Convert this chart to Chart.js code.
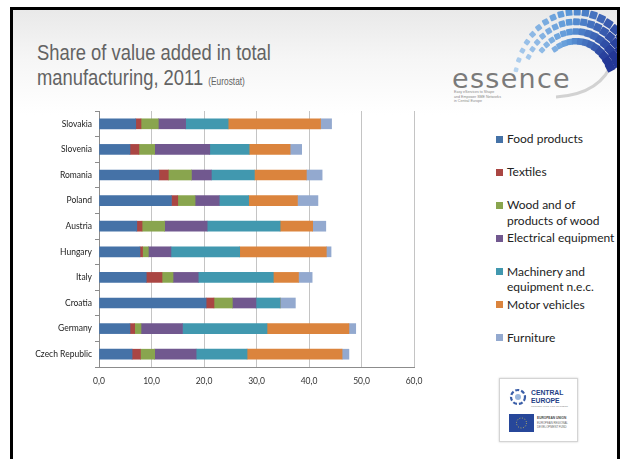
<!DOCTYPE html>
<html>
<head>
<meta charset="utf-8">
<script src="https://cdn.jsdelivr.net/npm/chart.js@4.4.0/dist/chart.umd.min.js"></script>
<style>
  html, body { margin:0; padding:0; background:#fff; }
  body { width:621px; height:459px; position:relative; overflow:hidden; }
  #frame { position:absolute; left:10px; top:7px; width:610px; height:460px; box-sizing:border-box;
           border:3px solid #000; border-bottom:none;
           background:linear-gradient(to bottom, #e9e9e9 0px, #f6f6f6 50px, #ffffff 105px, #ffffff 100%); }
  #title { position:absolute; left:37px; top:40px; font-family:"Liberation Sans",Arial,sans-serif;
           font-size:22px; line-height:25px; color:#636363; white-space:nowrap;
           transform:scaleX(0.835); transform-origin:0 0; }
  #title small { font-size:10px; }
  #chartBox { position:absolute; left:0; top:100px; width:440px; height:300px; }
  .leg { position:absolute; left:496px; font-family:Lato,"Open Sans",sans-serif; font-size:12px; color:#222; }
  .leg .sw { position:absolute; left:0; width:7px; height:7px; }
  .leg .tx { position:absolute; left:11px; white-space:pre; line-height:15.7px; }
  #essence { position:absolute; left:452px; top:63px; font-family:"DejaVu Sans",sans-serif; font-size:27px;
             color:#7a7a7a; letter-spacing:1.3px; }
  #tag { position:absolute; left:454px; top:90px; font-family:"Liberation Sans",sans-serif; font-size:3.6px;
         line-height:4.6px; color:#888; }
  #ce { position:absolute; left:499px; top:378px; width:79px; height:64px; box-sizing:border-box;
        border:1px solid #d4d4d4; background:#fff; box-shadow:0 0 2px #ccc; }
</style>
</head>
<body>
<div id="frame"></div>
<div id="title">Share of value added in total<br>manufacturing, 2011 <small>(Eurostat)</small></div>
<svg id="logo" width="621" height="120" style="position:absolute;left:0;top:0"></svg>
<div id="essence">essence</div>
<div id="tag">Easy eServices to Shape<br>and Empower SME Networks<br>in Central Europe</div>
<div id="chartBox"><canvas id="c"></canvas></div>
<div id="legend"></div>
<div id="ce">
  <svg width="77" height="62">
    <circle cx="18" cy="18" r="7" fill="none" stroke="#3a5ea8" stroke-width="2.2" stroke-dasharray="4 2"/>
    <circle cx="18" cy="18" r="3" fill="#9ab6dc"/>
    <text x="31" y="16" font-family="Liberation Sans" font-weight="bold" font-size="8" fill="#243f86" transform="translate(31,0) scale(0.85,1) translate(-31,0)">CENTRAL</text>
    <text x="31" y="24" font-family="Liberation Sans" font-weight="bold" font-size="8" fill="#243f86" transform="translate(31,0) scale(0.85,1) translate(-31,0)">EUROPE</text>
    <text x="31" y="28" font-family="Liberation Sans" font-size="2.5" fill="#888">COOPERATING FOR SUCCESS</text>
    <rect x="9" y="35" width="25" height="18" fill="#27479a"/>
    <circle cx="21.5" cy="44" r="5" fill="none" stroke="#e8d24a" stroke-width="0.8" stroke-dasharray="0.9 1.7"/>
    <text x="37" y="40" font-family="Liberation Sans" font-weight="bold" font-size="3.2" fill="#444">EUROPEAN UNION</text>
    <text x="37" y="45" font-family="Liberation Sans" font-size="2.8" fill="#666">EUROPEAN REGIONAL</text>
    <text x="37" y="49" font-family="Liberation Sans" font-size="2.8" fill="#666">DEVELOPMENT FUND</text>
  </svg>
</div>
<script>
// ---- data ----
const categories = ['Slovakia','Slovenia','Romania','Poland','Austria','Hungary','Italy','Croatia','Germany','Czech Republic'];
const seriesNames = ['Food products','Textiles','Wood and of\nproducts of wood','Electrical equipment','Machinery and\nequipment n.e.c.','Motor vehicles','Furniture'];
const foodProducts        = [7.0, 5.9, 11.4, 13.8, 7.2, 7.8, 9.0, 20.4, 5.9, 6.3];
const textiles            = [1.0, 1.7, 1.8, 1.2, 1.0, 0.5, 3.0, 1.5, 0.9, 1.6];
const woodProducts        = [3.3, 3.0, 4.4, 3.3, 4.3, 1.1, 2.1, 3.5, 1.2, 2.7];
const electricalEquipment = [5.2, 10.5, 3.8, 4.6, 8.1, 4.3, 4.8, 4.5, 7.9, 7.9];
const machinery           = [8.1, 7.5, 8.2, 5.6, 13.9, 13.1, 14.3, 4.6, 16.1, 9.7];
const motorVehicles       = [17.6, 7.8, 9.9, 9.3, 6.2, 16.5, 4.8, 0.0, 15.6, 18.1];
const furniture           = [2.1, 2.2, 3.0, 3.9, 2.5, 0.9, 2.6, 2.9, 1.3, 1.3];
const xTickLabels = ['0,0','10,0','20,0','30,0','40,0','50,0','60,0'];

const seriesValues = [foodProducts, textiles, woodProducts, electricalEquipment, machinery, motorVehicles, furniture];
const colors = ['#4572a7','#aa4643','#89a54e','#71588f','#4198af','#db843d','#93a9cf'];

const datasets = seriesValues.map((vals, i) => ({
  label: seriesNames[i].replace('\n',' '),
  data: vals,
  backgroundColor: colors[i],
  borderWidth: 0,
  barThickness: 10
}));

new Chart(document.getElementById('c'), {
  type: 'bar',
  data: { labels: categories, datasets },
  options: {
    indexAxis: 'y',
    responsive: true,
    maintainAspectRatio: false,
    animation: false,
    layout: { padding: { top: 11, right: 26, left: 0, bottom: 0 } },
    plugins: { legend: { display: false }, tooltip: { enabled: false }, title: { display: false } },
    scales: {
      x: {
        stacked: true, min: 0, max: 60,
        ticks: { stepSize: 10, color: '#333', padding: 9,
                 font: { family: 'Lato, "Open Sans", sans-serif', size: 8.5 },
                 callback: (v, i) => xTickLabels[i] },
        grid: { color: '#c4c4c4', lineWidth: 1, drawTicks: false },
        border: { display: true, color: '#8c8c8c', width: 1 },
        afterFit: s => { s.height = 33; }
      },
      y: {
        stacked: true,
        ticks: { color: '#222', padding: 3,
                 font: { family: 'Lato, "Open Sans", sans-serif', size: 8.5 } },
        grid: { offset: true, drawOnChartArea: false, drawTicks: true, tickLength: 4, color: '#8c8c8c' },
        border: { display: true, color: '#8c8c8c', width: 1 },
        afterFit: s => { s.width = 99; }
      }
    }
  }
});

// ---- legend (HTML, built from series arrays) ----
const leg = document.getElementById('legend');
seriesNames.forEach((name, i) => {
  const cy = 139 + 33.1 * i;
  const d = document.createElement('div');
  d.className = 'leg';
  d.style.top = (cy - 7.85) + 'px';
  d.innerHTML = '<div class="sw" style="top:4.4px;background:' + colors[i] + '"></div><div class="tx"></div>';
  d.querySelector('.tx').textContent = name;
  leg.appendChild(d);
});

// ---- decorative logo squares ----
const svg = document.getElementById('logo');
const cx = 576, cy0 = 90, rx = 62, ry = 78;
const rows = [1.0, 0.875, 0.75, 0.625];
let out = '';
out += '<defs><clipPath id="cl"><rect x="13" y="10" width="604" height="110"/></clipPath></defs><g clip-path="url(#cl)">';
out += '<path d="M 556 97 Q 602 94 613 60" fill="none" stroke="#d2d2d2" stroke-width="3"/>';
const light = [182, 212, 240], mid = [90, 150, 215], dark = [35, 55, 150];
rows.forEach((s, r) => {
  const a0 = 195 + r * 14, a1 = 332;
  const n = 19 - r * 2;
  for (let k = 0; k < n; k++) {
    const t = k / (n - 1);
    const deg = a0 + t * (a1 - a0);
    const th = deg * Math.PI / 180;
    const x = cx + rx * s * Math.cos(th);
    const y = cy0 + ry * s * Math.sin(th);
    const g = (deg - 195) / 137;
    const size = (4.5 + 4.5 * g) * (0.85 + 0.15 * s);
    const ang = deg + 90;
    let col;
    if (g < 0.5) { const m = g / 0.5; col = light.map((v, j) => Math.round(v + (mid[j] - v) * m)); }
    else { const m = Math.min(1, (g - 0.5) / 0.45 + (1 - s) * 0.1); col = mid.map((v, j) => Math.round(v + (dark[j] - v) * m)); }
    out += '<rect x="' + (-size/2).toFixed(2) + '" y="' + (-size/2).toFixed(2) + '" width="' + size.toFixed(2) + '" height="' + size.toFixed(2) +
           '" rx="1" fill="rgb(' + col.join(',') + ')" transform="translate(' + x.toFixed(1) + ',' + y.toFixed(1) + ') rotate(' + ang.toFixed(1) + ')"/>';
  }
});
out += '</g>';
svg.innerHTML = out;
</script>
</body>
</html>
